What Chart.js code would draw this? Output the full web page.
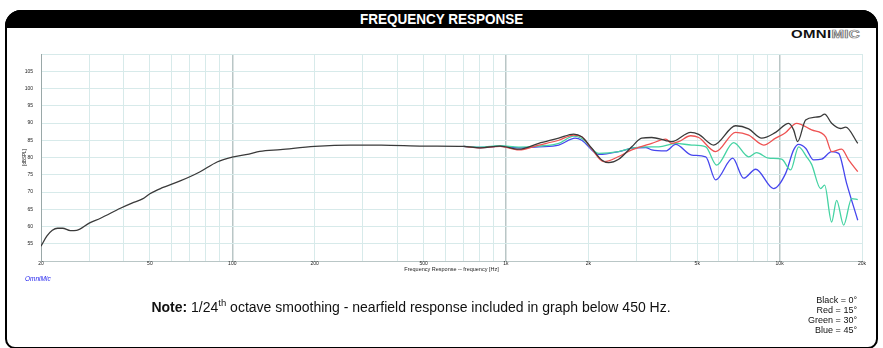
<!DOCTYPE html>
<html>
<head>
<meta charset="utf-8">
<script src="https://cdn.jsdelivr.net/npm/chart.js@4/dist/chart.umd.min.js"></script>
<style>
  html, body { margin:0; padding:0; background:#fff; width:883px; height:348px; overflow:hidden; }
  body { position:relative; font-family:"Liberation Sans", Arial, sans-serif; }
  #frame { position:absolute; left:5px; top:10px; width:869px; height:335px; border:2px solid #000; border-radius:16px 16px 10px 10px; }
  #titlebar { position:absolute; left:5px; top:10px; width:873px; height:18px; background:#000; border-radius:16px 16px 0 0; text-align:center; }
  #titlebar span { display:inline-block; color:#fff; font-weight:bold; font-size:15px; line-height:18px; transform:scaleX(0.9); }
  #logo { position:absolute; right:23px; top:29px; font-size:10px; font-weight:900; line-height:12px; transform:scaleX(1.5); transform-origin:right center; letter-spacing:0.2px; }
  #logo .omni { color:#111; }
  #logo .mic { color:#fff; -webkit-text-stroke:0.7px #777; }
  #c { position:absolute; left:0; top:0; }
  #omnimic { position:absolute; left:25px; top:275px; font-size:6.5px; font-style:italic; color:#2222ee; }
  #note { position:absolute; left:0; width:822px; top:299px; text-align:center; font-size:14px; color:#111; }
  #note sup { font-size:9.5px; vertical-align:6px; line-height:0; }
  #legend { position:absolute; right:26px; top:295px; font-size:9px; line-height:10px; text-align:right; color:#111; }
</style>
</head>
<body>
<div id="frame"></div>
<div id="titlebar"><span>FREQUENCY RESPONSE</span></div>
<div id="logo"><span class="omni">OMNI</span><span class="mic">MIC</span></div>
<canvas id="c" width="883" height="348"></canvas>
<div id="omnimic">OmniMic</div>
<div id="note"><b>Note:</b> 1/24<sup>th</sup> octave smoothing - nearfield response included in graph below 450 Hz.</div>
<div id="legend">Black = 0°<br>Red = 15°<br>Green = 30°<br>Blue = 45°</div>
<script>
// ---- data (frequency in Hz, level in dBSPL) ----
const blackFreq = [20,21,22,23,24,25.6,27,30,33,39,43,47,50,55,64.5,76,88,100,115,126,150,200,270,350,500,700,805,952,1114,1318,1559,1768,1892,2058,2238,2374,2582,2882,3134,3409,3836,4033,4732,5063,5742,6908,7706,8598,9672,10788,11250,11638,12446,13538,14120,14604,15490,16708,17426,19300];
const blackDb   = [54.3,57.2,58.9,59.5,59.5,58.8,58.9,61.0,62.4,65.3,66.8,68.0,69.5,71.1,73.2,75.8,78.7,80.1,81.0,81.8,82.3,83.2,83.6,83.6,83.3,83.2,82.8,83.3,82.4,84.1,85.6,86.8,86.0,82.7,79.3,78.5,79.5,83.1,85.6,85.8,84.9,84.6,87.3,86.7,83.6,89.2,88.3,85.6,87.3,89.9,88.0,84.6,90.9,91.7,91.9,92.6,89.9,88.4,88.8,84.1];

const redFreq = [700,805,952,1114,1318,1559,1768,1892,2058,2277,2374,2582,2882,3409,3836,4033,4278,4732,5063,5841,6908,7706,8744,9672,10500,11538,13090,14728,15490,16850,17870,19300];
const redDb   = [83.2,82.8,83.2,82.2,83.6,85.0,86.5,86.0,82.5,78.8,79.0,80.3,82.2,84.1,85.3,84.1,84.6,86.3,85.8,81.7,87.3,86.5,83.6,85.6,87.2,89.9,88.0,86.0,81.7,82.4,79.3,75.9];

const greenFreq = [700,805,952,1114,1318,1559,1768,1892,2184,2582,2882,3409,3617,4171,4773,5370,5888,6792,7706,8242,9120,10172,10970,11736,12550,13090,14120,14604,15490,16156,17136,18326,19300];
const greenDb   = [83.2,83.0,83.4,83.0,83.3,84.1,86.2,85.5,81.2,81.7,82.7,83.1,83.1,84.1,83.6,83.1,77.8,84.3,80.2,81.4,79.8,79.5,76.4,83.1,80.2,78.0,71.0,72.0,61.3,67.6,60.4,68.1,67.8];

const blueFreq = [700,805,952,1114,1318,1559,1790,1892,2184,2582,2882,3242,3409,3836,4171,4773,5370,5841,6737,7390,8174,9510,10520,11252,11736,12446,13312,14240,15490,16430,17572,19300];
const blueDb   = [83.2,82.9,83.3,82.8,83.1,83.6,85.6,85.0,80.9,81.7,82.7,82.9,82.2,81.9,83.8,80.7,80.2,73.5,79.8,74.0,76.6,71.0,75.4,82.2,83.8,82.7,79.3,79.5,81.7,81.2,72.5,61.8];

const xTickValues = [20,30,40,50,60,70,80,90,100,200,300,400,500,600,700,800,900,1000,2000,3000,4000,5000,6000,7000,8000,9000,10000,20000];
const xTickLabels = {20:"20",50:"50",100:"100",200:"200",500:"500",1000:"1k",2000:"2k",5000:"5k",10000:"10k",20000:"20k"};
const yHiddenLabels = [50,110];

const toPts = (f, d) => f.map((v, i) => ({ x: v, y: d[i] }));

const ds = (label, f, d, color) => ({
  label, data: toPts(f, d), borderColor: color, borderWidth: 1.3,
  pointRadius: 0, fill: false, cubicInterpolationMode: 'monotone'
});

new Chart(document.getElementById('c'), {
  type: 'line',
  data: {
    datasets: [
      ds('0°', blackFreq, blackDb, '#3a3a3a'),
      ds('15°', redFreq, redDb, '#ee5252'),
      ds('30°', greenFreq, greenDb, '#45d3a3'),
      ds('45°', blueFreq, blueDb, '#4646ee')
    ]
  },
  options: {
    responsive: false,
    animation: false,
    devicePixelRatio: 1,
    layout: { padding: { left: 22, right: 21, top: 54, bottom: 75 } },
    plugins: { legend: { display: false }, tooltip: { enabled: false } },
    scales: {
      x: {
        type: 'logarithmic', min: 20, max: 20000,
        afterBuildTicks: s => { s.ticks = xTickValues.map(v => ({ value: v })); },
        afterFit: s => { s.height = 12; },
        ticks: {
          autoSkip: false, maxRotation: 0, minRotation: 0, padding: 0,
          color: '#222', font: { size: 5, family: 'Liberation Sans' },
          callback: v => xTickLabels[v] || ''
        },
        grid: {
          drawTicks: false,
          color: c => ([100,1000,10000].includes(c.tick && c.tick.value) ? '#b9c6c6' : '#d7eaea'),
          lineWidth: c => ([100,1000,10000].includes(c.tick && c.tick.value) ? 1.5 : 1)
        },
        border: { color: '#b9c6c6' },
        title: { display: true, text: 'Frequency Response -- frequency [Hz]', color: '#222', padding: { top: 0, bottom: 0 }, font: { size: 5.5, family: 'Liberation Sans' } }
      },
      y: {
        min: 50, max: 110,
        afterFit: s => { s.width = 19; },
        ticks: {
          stepSize: 5, padding: 8, color: '#222', font: { size: 5, family: 'Liberation Sans' },
          callback: v => (yHiddenLabels.includes(v) ? '' : String(v))
        },
        grid: { drawTicks: false, color: '#d7eaea' },
        border: { color: '#9aa8a8' },
        title: { display: true, text: '[dBSPL]', color: '#222', padding: { top: 0, bottom: 0 }, font: { size: 4.5, family: 'Liberation Sans' } }
      }
    }
  }
});
</script>
</body>
</html>
